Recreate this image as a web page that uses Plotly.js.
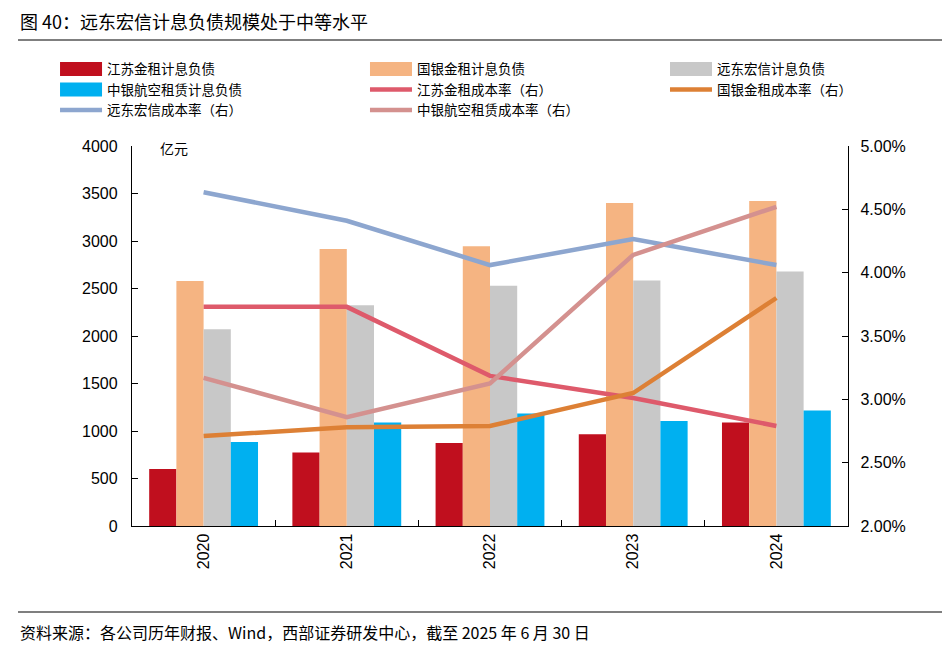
<!DOCTYPE html>
<html>
<head>
<meta charset="utf-8">
<script src="https://cdn.plot.ly/plotly-3.0.1.min.js"></script>
<style>html,body{margin:0;padding:0;background:#fff;}#chart{width:942px;height:657px;}</style>
</head>
<body>
<div id="chart"></div>
<script>
const years = ['2020', '2021', '2022', '2023', '2024'];
const jiangsuDebt = [600, 775, 875, 965, 1090];
const guoyinDebt = [2580, 2915, 2945, 3400, 3420];
const yuandongDebt = [2070, 2325, 2530, 2585, 2680];
const zhongyinDebt = [885, 1090, 1185, 1105, 1215];
const jiangsuRate = [0.0373, 0.0373, 0.03185, 0.0301, 0.0279];
const guoyinRate = [0.0271, 0.0278, 0.0279, 0.0305, 0.0380];
const yuandongRate = [0.04635, 0.0441, 0.0406, 0.04265, 0.0406];
const zhongyinRate = [0.0317, 0.0286, 0.03125, 0.0414, 0.0452];
const names = ['江苏金租计息负债', '国银金租计息负债', '远东宏信计息负债', '中银航空租赁计息负债',
  '江苏金租成本率（右）', '国银金租成本率（右）', '远东宏信成本率（右）', '中银航空租赁成本率（右）'];

const cjk = '"Noto Sans CJK SC", "Noto Sans", sans-serif';
const num = '"Liberation Sans", Arial, sans-serif';

function bar(name, y, color, lg) {
  return {type: 'bar', name: name, x: years, y: y, marker: {color: color}, yaxis: 'y', legend: lg};
}
function line(name, y, color, lg) {
  return {type: 'scatter', mode: 'lines', name: name, x: years, y: y, yaxis: 'y2', legend: lg,
    line: {color: color, width: 4.5}};
}

const data = [
  bar(names[0], jiangsuDebt, '#C00F1E', 'legend'),
  bar(names[1], guoyinDebt, '#F5B482', 'legend2'),
  bar(names[2], yuandongDebt, '#C8C8C8', 'legend3'),
  bar(names[3], zhongyinDebt, '#00B0F0', 'legend'),
  line(names[4], jiangsuRate, '#DE5A6B', 'legend2'),
  line(names[5], guoyinRate, '#DD8035', 'legend3'),
  line(names[6], yuandongRate, '#8DA6CF', 'legend'),
  line(names[7], zhongyinRate, '#D4918F', 'legend2')
];

function lg(x) {
  return {orientation: 'v', x: x, xanchor: 'left', y: 1.243, yanchor: 'top',
    itemwidth: 42, tracegroupgap: 0, bgcolor: 'rgba(0,0,0,0)',
    font: {family: cjk, size: 13.5, color: '#000'}, traceorder: 'normal'};
}

const layout = {
  width: 942, height: 657,
  margin: {l: 132, r: 94, t: 146, b: 131},
  paper_bgcolor: '#fff', plot_bgcolor: '#fff',
  barmode: 'group', bargap: 0.24, bargroupgap: 0,
  showlegend: true,
  legend: lg(-0.1075),
  legend2: lg(0.3254),
  legend3: lg(0.7444),
  xaxis: {type: 'category', showline: true, linecolor: '#000', linewidth: 1.2,
    ticks: 'inside', tickson: 'boundaries', ticklen: 6, tickcolor: '#000',
    tickangle: -90, tickfont: {family: num, size: 16, color: '#000'}, showgrid: false},
  yaxis: {range: [0, 4000], dtick: 500, showline: true, linecolor: '#000', linewidth: 1.2,
    ticks: 'inside', ticklen: 6, tickcolor: '#000', showgrid: false, zeroline: false,
    ticklabelstandoff: 10,
    tickfont: {family: num, size: 16, color: '#000'}},
  yaxis2: {overlaying: 'y', side: 'right', range: [0.02, 0.05], dtick: 0.005, tickformat: '.2%',
    showline: true, linecolor: '#000', linewidth: 1.2, ticks: 'inside', ticklen: 6, tickcolor: '#000',
    ticklabelstandoff: 8,
    showgrid: false, zeroline: false, tickfont: {family: num, size: 16, color: '#000'}},
  shapes: [
    {type: 'line', xref: 'paper', yref: 'paper', x0: -0.1592, x1: 1.1313, y0: 1.2789, y1: 1.2789,
      line: {color: '#000', width: 1.2}},
    {type: 'line', xref: 'paper', yref: 'paper', x0: -0.1592, x1: 1.1313, y0: -0.2263, y1: -0.2263,
      line: {color: '#000', width: 1.2}}
  ],
  annotations: [
    {xref: 'paper', yref: 'paper', x: -0.1592, y: 1.329, xanchor: 'left', yanchor: 'middle',
      text: '图 40：远东宏信计息负债规模处于中等水平', showarrow: false,
      font: {family: cjk, size: 18, color: '#000'}},
    {xref: 'paper', yref: 'paper', x: -0.1592, y: -0.2789, xanchor: 'left', yanchor: 'middle',
      text: '资料来源：各公司历年财报、Wind，西部证券研发中心，截至 2025 年 6 月 30 日', showarrow: false,
      font: {family: cjk, size: 16, color: '#000'}},
    {xref: 'paper', yref: 'paper', x: 0.036, y: 0.995, xanchor: 'left', yanchor: 'middle',
      text: '亿元', showarrow: false, font: {family: cjk, size: 14, color: '#000'}}
  ]
};

Plotly.newPlot('chart', data, layout, {displayModeBar: false, staticPlot: true}).then(function () {
  // widen the bar legend swatches into wide rectangles like the reference
  document.querySelectorAll('.legendpoints path').forEach(function (p) {
    const d = (p.getAttribute('d') || '').replace(/\s/g, '');
    if (d === 'M6,6H-6V-6H6Z') {
      p.setAttribute('d', 'M21,7H-21V-7H21Z');
    }
  });
});
</script>
</body>
</html>
